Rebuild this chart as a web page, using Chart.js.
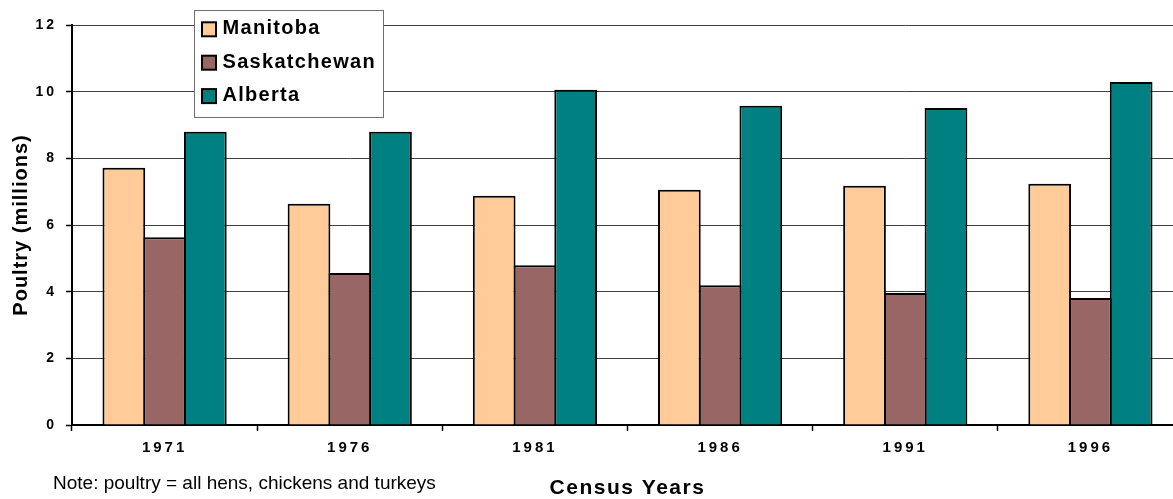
<!DOCTYPE html>
<html>
<head>
<meta charset="utf-8">
<script src="https://cdn.jsdelivr.net/npm/chart.js@4/dist/chart.umd.min.js"></script>
<style>
  html, body { margin: 0; padding: 0; background: #fff; overflow: hidden; }
  #wrap { width: 1173px; height: 499px; overflow: hidden; }
  canvas { display: block; }
</style>
</head>
<body>
<div id="wrap"><canvas id="c" width="1183" height="499"></canvas></div>
<script>
// Census years and poultry counts (millions) by province
const years = ['1971', '1976', '1981', '1986', '1991', '1996'];
const manitoba = [7.72, 6.64, 6.88, 7.06, 7.18, 7.24];
const saskatchewan = [5.63, 4.56, 4.79, 4.19, 3.96, 3.81];
const alberta = [8.80, 8.80, 10.06, 9.58, 9.51, 10.29];
const seriesNames = ['Manitoba', 'Saskatchewan', 'Alberta'];
const seriesColors = ['#FFCC99', '#996666', '#008080'];
const noteText = 'Note: poultry = all hens, chickens and turkeys';
const FONT = "'Liberation Sans', Arial, sans-serif";

// Applies letter spacing to tick labels and axis titles
const spacedText = {
  id: 'spacedText',
  beforeDraw(chart) {
    Object.values(chart.scales).forEach(scale => {
      if (scale._spacedWrapped) return;
      const labels = scale.drawLabels;
      const title = scale.drawTitle;
      scale.drawLabels = function (area) {
        const ctx = this.ctx;
        ctx.save();
        ctx.letterSpacing = this.options.ticks.letterSpacing || '0px';
        labels.call(this, area);
        ctx.restore();
      };
      scale.drawTitle = function (area) {
        const ctx = this.ctx;
        ctx.save();
        ctx.letterSpacing = this.options.title.letterSpacing || '0px';
        title.call(this, area);
        ctx.restore();
      };
      scale._spacedWrapped = true;
    });
  }
};

// Boxed legend in the upper plot area plus the footnote
const legendBox = {
  id: 'legendBox',
  afterDraw(chart) {
    const ctx = chart.ctx;
    ctx.save();
    ctx.fillStyle = '#fff';
    ctx.fillRect(194.5, 10.5, 189, 107);
    ctx.strokeStyle = '#6e6e6e';
    ctx.lineWidth = 1;
    ctx.strokeRect(194.5, 10.5, 189, 107);
    ctx.font = 'bold 20px ' + FONT;
    ctx.letterSpacing = '1.3px';
    ctx.textBaseline = 'alphabetic';
    chart.data.datasets.forEach((ds, i) => {
      const base = 34.3 + i * 33.4;
      ctx.fillStyle = ds.backgroundColor;
      ctx.fillRect(202, base - 12, 14, 14);
      ctx.strokeStyle = '#000';
      ctx.lineWidth = 2;
      ctx.strokeRect(202, base - 12, 14, 14);
      ctx.fillStyle = '#000';
      ctx.fillText(ds.label, 222.5, base);
    });
    ctx.letterSpacing = '0px';
    ctx.font = '19px ' + FONT;
    ctx.fillStyle = '#000';
    ctx.fillText(noteText, 53, 489);
    ctx.restore();
  }
};

const datasets = [manitoba, saskatchewan, alberta].map((vals, i) => ({
  label: seriesNames[i],
  data: vals,
  backgroundColor: seriesColors[i],
  borderColor: '#000',
  borderWidth: 2,
  categoryPercentage: 0.66,
  barPercentage: 1.049
}));

new Chart(document.getElementById('c'), {
  type: 'bar',
  data: { labels: years, datasets },
  plugins: [spacedText, legendBox],
  options: {
    responsive: false,
    animation: false,
    devicePixelRatio: 1,
    layout: { padding: { top: 25, right: 0, bottom: 0, left: 0 } },
    plugins: { legend: { display: false }, tooltip: { enabled: false } },
    scales: {
      x: {
        afterFit(s) { s.height = 74; },
        grid: { offset: true, drawOnChartArea: false, tickLength: 6, tickColor: '#000', tickWidth: 1.5 },
        border: { display: true, color: '#000', width: 2 },
        ticks: { color: '#000', font: { family: FONT, size: 15, weight: 'bold' }, padding: 8, letterSpacing: '3px', maxRotation: 0 },
        title: { display: true, text: 'Census Years', color: '#000', font: { family: FONT, size: 21, weight: 'bold', lineHeight: 1 }, padding: { top: 0, bottom: 0 }, letterSpacing: '1.5px' }
      },
      y: {
        min: 0, max: 12,
        afterFit(s) { s.width = 72; },
        grid: { color: '#404040', lineWidth: 1, tickLength: 6, tickColor: '#000', tickWidth: 1.5 },
        border: { display: true, color: '#000', width: 2 },
        ticks: { stepSize: 2, color: '#000', font: { family: FONT, size: 14, weight: 'bold' }, padding: 9, letterSpacing: '3px' },
        title: { display: true, text: 'Poultry (millions)', color: '#000', font: { family: FONT, size: 20, weight: 'bold' }, padding: { top: 9, bottom: 0 }, letterSpacing: '1px' }
      }
    }
  }
});
</script>
</body>
</html>
